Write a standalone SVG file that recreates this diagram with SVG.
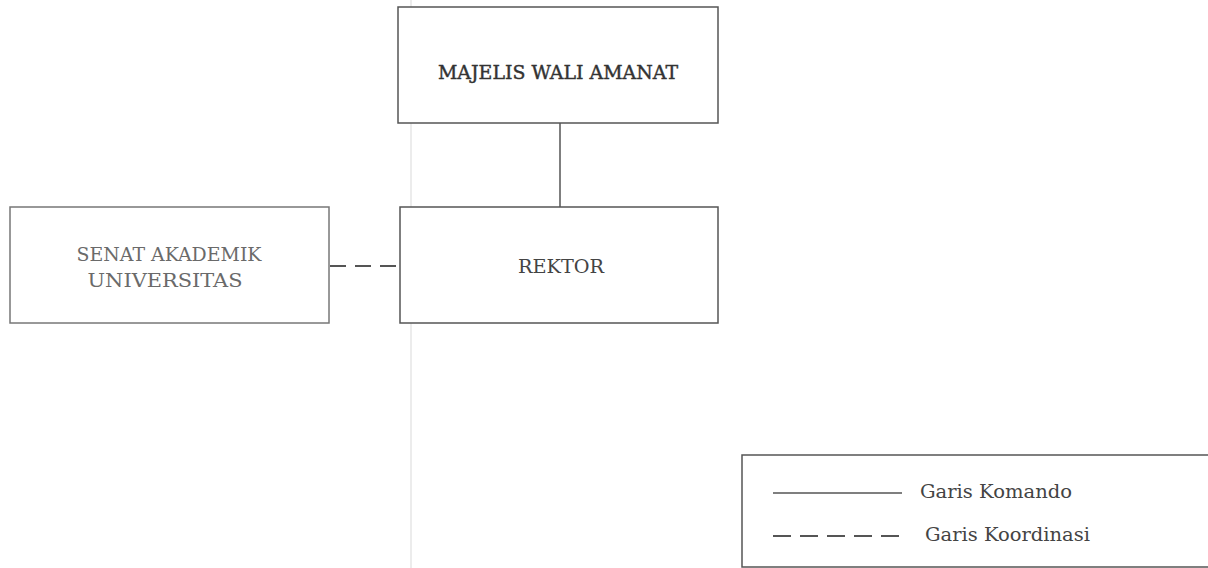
<svg xmlns="http://www.w3.org/2000/svg" width="1208" height="568" viewBox="0 0 1208 568">
<style>
.box{fill:#fff;stroke:#555;stroke-width:1.5}
.t{font-family:"DejaVu Serif","Liberation Serif",serif;fill:#444;text-anchor:middle;font-size:18px}
.lt{font-family:"DejaVu Serif","Liberation Serif",serif;fill:#444;font-size:18px}
.solid{stroke:#555;stroke-width:1.5;fill:none}
.dash{stroke:#555;stroke-width:2;fill:none;stroke-dasharray:16 8}
</style>
<rect width="1208" height="568" fill="#fff"/>
<line x1="411" y1="0" x2="411" y2="568" stroke="#ececec" stroke-width="2"/>
<g id="connectors">
<line class="solid" x1="560" y1="123" x2="560" y2="207"/>
<line class="dash" x1="330" y1="266" x2="400" y2="266" style="stroke-dasharray:16 9"/>
</g>
<g id="mwa">
<rect class="box" x="398" y="7" width="320" height="116"/>
<text class="t" x="558" y="79" style="fill:#333;stroke:#333;stroke-width:0.4" textLength="240" lengthAdjust="spacingAndGlyphs">MAJELIS WALI AMANAT</text>
</g>
<g id="rektor">
<rect class="box" x="400" y="207" width="318" height="116"/>
<text class="t" x="561" y="273" textLength="86" lengthAdjust="spacingAndGlyphs">REKTOR</text>
</g>
<g id="senat">
<rect class="box" x="10" y="207" width="319" height="116" style="stroke:#777"/>
<text class="t" x="169" y="261" style="fill:#6a6a6a" textLength="185" lengthAdjust="spacingAndGlyphs">SENAT AKADEMIK</text>
<text class="t" x="165" y="287" style="fill:#6a6a6a" textLength="155" lengthAdjust="spacingAndGlyphs">UNIVERSITAS</text>
</g>
<g id="legend">
<rect class="box" x="742" y="455" width="475" height="112"/>
<line class="solid" x1="773" y1="493" x2="902" y2="493"/>
<text class="lt" x="920" y="498" textLength="152" lengthAdjust="spacingAndGlyphs">Garis Komando</text>
<line class="dash" x1="773" y1="536" x2="902" y2="536" style="stroke-dasharray:18 9"/>
<text class="lt" x="925" y="541" textLength="165" lengthAdjust="spacingAndGlyphs">Garis Koordinasi</text>
</g>
</svg>
